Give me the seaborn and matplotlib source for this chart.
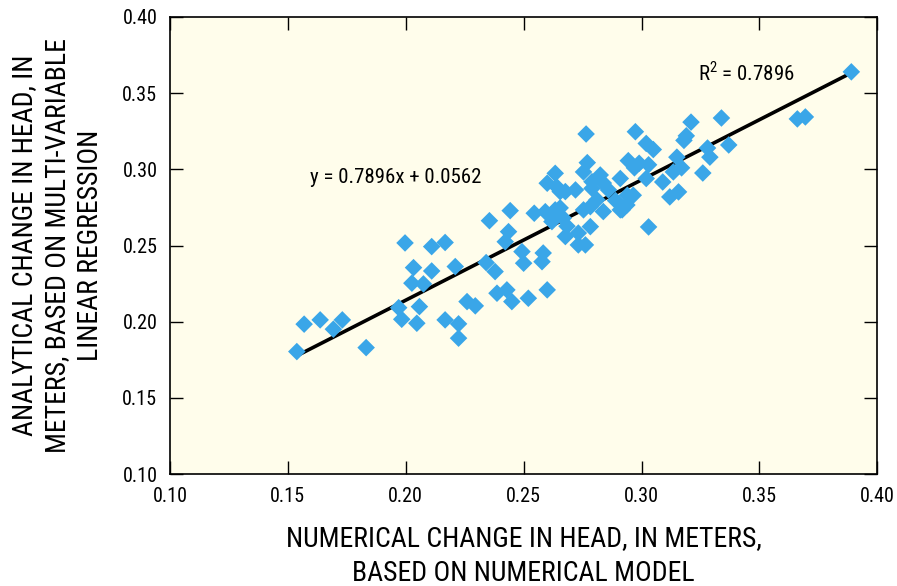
import numpy as np
import pandas as pd
import matplotlib
matplotlib.use("Agg")
import matplotlib.pyplot as plt
from matplotlib import font_manager
import seaborn as sns

# Numerical model change in head (m) vs. regression-based change in head (m)
numerical_change = [
    0.1538, 0.1569, 0.1637, 0.1693, 0.1731, 0.1832, 0.1970, 0.1983, 0.1997, 0.2026,
    0.2033, 0.2047, 0.2058, 0.2075, 0.2110, 0.2110, 0.2167, 0.2167, 0.2210, 0.2224,
    0.2224, 0.2260, 0.2295, 0.2341, 0.2355, 0.2379, 0.2387, 0.2422, 0.2429, 0.2436,
    0.2443, 0.2450, 0.2493, 0.2500, 0.2520, 0.2545, 0.2583, 0.2578, 0.2600, 0.2592,
    0.2634, 0.2655, 0.2620, 0.2668, 0.2684, 0.2677, 0.2732, 0.2732, 0.2762, 0.2783,
    0.2754, 0.2783, 0.2838, 0.2910, 0.2634, 0.2600, 0.2640, 0.2677, 0.2720, 0.2765,
    0.2770, 0.2754, 0.2825, 0.2790, 0.2910, 0.2944, 0.2838, 0.2860, 0.2811, 0.2890,
    0.2938, 0.2974, 0.3210, 0.3339, 0.3190, 0.3180, 0.3020, 0.3050, 0.2990, 0.2970,
    0.3030, 0.3150, 0.3170, 0.3135, 0.3280, 0.3290, 0.3260, 0.3020, 0.3090, 0.3157,
    0.3120, 0.2940, 0.2965, 0.3370, 0.3661, 0.3695, 0.3890, 0.3030, 0.2918, 0.2790,
    0.2655,
]
analytical_change = [
    0.1804, 0.1984, 0.2012, 0.1951, 0.2012, 0.1830, 0.2092, 0.2016, 0.2517, 0.2253,
    0.2355, 0.1990, 0.2099, 0.2248, 0.2493, 0.2333, 0.2520, 0.2012, 0.2362, 0.1986,
    0.1892, 0.2132, 0.2104, 0.2388, 0.2663, 0.2329, 0.2187, 0.2525, 0.2209, 0.2591,
    0.2729, 0.2132, 0.2460, 0.2384, 0.2154, 0.2712, 0.2451, 0.2394, 0.2209, 0.2722,
    0.2734, 0.2747, 0.2657, 0.2680, 0.2627, 0.2559, 0.2582, 0.2504, 0.2504, 0.2624,
    0.2734, 0.2755, 0.2723, 0.2734, 0.2974, 0.2909, 0.2886, 0.2854, 0.2865, 0.3232,
    0.3044, 0.2983, 0.2963, 0.2919, 0.2940, 0.3057, 0.2910, 0.2865, 0.2800, 0.2795,
    0.2766, 0.3247, 0.3310, 0.3337, 0.3220, 0.3190, 0.3170, 0.3130, 0.3040, 0.3010,
    0.3030, 0.3080, 0.3010, 0.2983, 0.3140, 0.3080, 0.2976, 0.2940, 0.2917, 0.2852,
    0.2819, 0.2830, 0.2830, 0.3160, 0.3331, 0.3344, 0.3640, 0.2622, 0.2734, 0.2875,
    0.2854,
]

# Linear fit reported on the chart
slope = 0.7896
intercept = 0.0562
r_squared = 0.7896
fit_range = np.array([0.154, 0.389])

x_ticks = [0.10, 0.15, 0.20, 0.25, 0.30, 0.35, 0.40]
y_ticks = [0.10, 0.15, 0.20, 0.25, 0.30, 0.35, 0.40]

sns.set_theme(style="white")

# Prefer a narrow sans face when one is available
installed = {f.name for f in font_manager.fontManager.ttflist}
narrow = [n for n in ["Liberation Sans Narrow", "Roboto Condensed", "Open Sans Condensed",
                      "DejaVu Sans Condensed"] if n in installed]
plt.rcParams["font.family"] = narrow + ["DejaVu Sans"]
plt.rcParams["font.stretch"] = "condensed"

df = pd.DataFrame({"numerical": numerical_change, "analytical": analytical_change})
fit_df = pd.DataFrame({"x": fit_range, "y": slope * fit_range + intercept})

fig = plt.figure(figsize=(8.97, 5.86), dpi=100)
ax = fig.add_axes([0.1895, 0.191, 0.7885, 0.780])
ax.set_facecolor("#FFFDEB")

sns.lineplot(data=fit_df, x="x", y="y", color="black", linewidth=2.6, ax=ax, zorder=2)
sns.scatterplot(data=df, x="numerical", y="analytical", marker="D", s=80,
                color="#3AA6E8", edgecolor="none", linewidth=0, ax=ax, zorder=3)

ax.set_xlim(0.10, 0.40)
ax.set_ylim(0.10, 0.40)
ax.set_xticks(x_ticks)
ax.set_yticks(y_ticks)
ax.set_xticklabels([f"{v:.2f}" for v in x_ticks])
ax.set_yticklabels([f"{v:.2f}" for v in y_ticks])
ax.tick_params(axis="both", which="major", direction="in", length=9.5, width=1,
               color="black", labelsize=14.5, labelcolor="black", pad=9,
               top=True, right=True, bottom=True, left=True)

for sp in ax.spines.values():
    sp.set_visible(True)
    sp.set_color("black")
    sp.set_linewidth(1.2)

ax.set_xlabel("NUMERICAL CHANGE IN HEAD, IN METERS,\nBASED ON NUMERICAL MODEL",
              fontsize=20, color="black", labelpad=14, linespacing=1.4)
ax.set_ylabel("ANALYTICAL CHANGE IN HEAD, IN\nMETERS, BASED ON MULTI-VARIABLE\nLINEAR REGRESSION",
              fontsize=20, color="black", labelpad=13, linespacing=1.3)

ax.text(0.1594, 0.2944, f"y = {slope:.4f}x + {intercept:.4f}", fontsize=15,
        color="black", ha="left", va="center")
ax.text(0.3241, 0.3633, r"R$^{\mathregular{2}}$" + f" = {r_squared:.4f}", fontsize=15,
        color="black", ha="left", va="center")

fig.savefig("out.png", dpi=100)
